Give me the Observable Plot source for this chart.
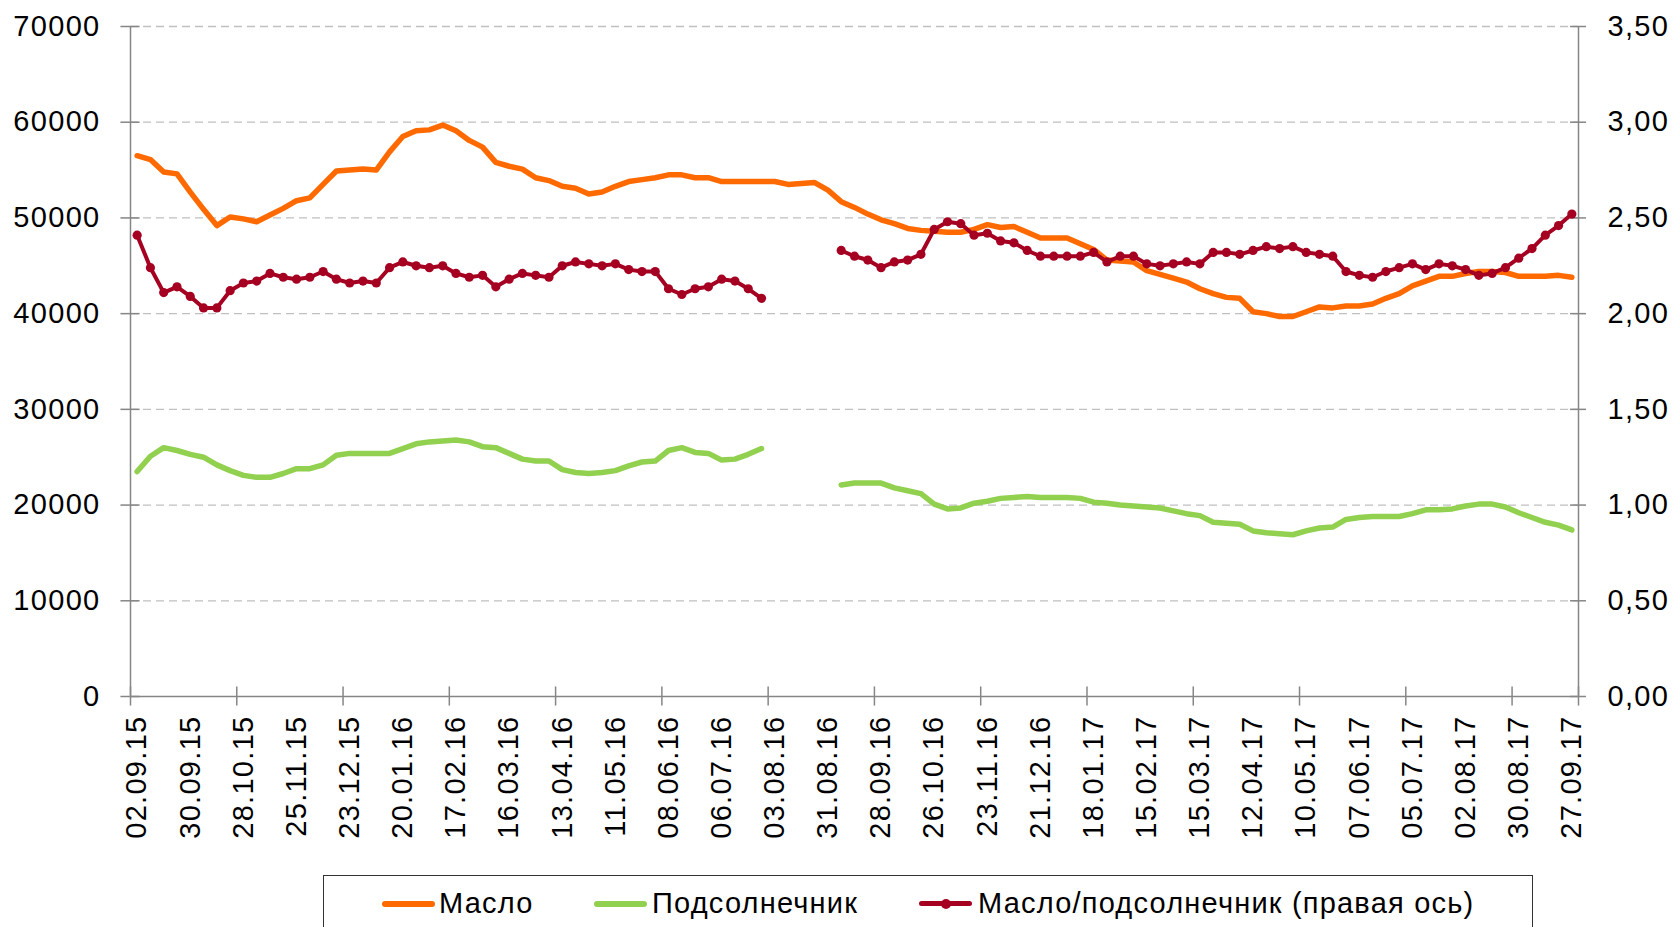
<!DOCTYPE html>
<html>
<head>
<meta charset="utf-8">
<script src="https://cdn.jsdelivr.net/npm/d3@7"></script>
<script src="https://cdn.jsdelivr.net/npm/@observablehq/plot@0.6"></script>
<style>
  html, body { margin: 0; padding: 0; background: #fff; overflow: hidden; }
  #chart { position: relative; width: 1673px; height: 927px; }
  #chart svg text { letter-spacing: 1.3px; }
  .legend { position: absolute; left: 323px; top: 875px; width: 1210px; height: 70px;
            border: 1.5px solid #333; box-sizing: border-box;
            font-family: "Liberation Sans", Arial, sans-serif; font-size: 29px; color: #000; letter-spacing: 1.2px; }
  .sw { position: absolute; top: 25px; width: 53px; height: 6px; border-radius: 3px; }
  .mk { position: absolute; left: 22px; top: -2px; width: 10px; height: 10px; border-radius: 5px; }
  .lt { position: absolute; top: 13px; line-height: 29px; white-space: nowrap; }
</style>
</head>
<body>
<div id="chart"></div>
<script>
// Categories: weekly observations, 02.09.15 … 27.09.17 (109 weeks); labels every 4th week
const tickLabels = ["02.09.15","30.09.15","28.10.15","25.11.15","23.12.15","20.01.16","17.02.16","16.03.16",
  "13.04.16","11.05.16","08.06.16","06.07.16","03.08.16","31.08.16","28.09.16","26.10.16","23.11.16",
  "21.12.16","18.01.17","15.02.17","15.03.17","12.04.17","10.05.17","07.06.17","05.07.17","02.08.17",
  "30.08.17","27.09.17"];

// Масло (left axis)
const oil = [56500,56100,54800,54600,52700,50900,49200,50100,49900,49600,50300,51000,51800,52100,53500,54900,
  55000,55100,55000,56900,58500,59100,59200,59700,59100,58100,57400,55800,55400,55100,54200,53900,53300,53100,
  52500,52700,53300,53800,54000,54200,54500,54500,54200,54200,53800,53800,53800,53800,53800,53500,53600,53700,
  52900,51700,51100,50400,49800,49400,48900,48700,48600,48500,48500,48800,49300,49000,49100,48500,47900,47900,
  47900,47300,46700,45600,45500,45400,44500,44100,43700,43300,42600,42100,41700,41600,40200,40000,39700,39700,
  40200,40700,40600,40800,40800,41000,41600,42100,42900,43400,43900,43900,44200,44400,44400,44300,43900,43900,
  43900,44000,43800];

// Подсолнечник (left axis)
const sunflower = [23500,25100,26000,25700,25300,25000,24200,23600,23100,22900,22900,23300,23800,23800,24200,
  25200,25400,25400,25400,25400,25900,26400,26600,26700,26800,26600,26100,26000,25400,24800,24600,24600,23700,
  23400,23300,23400,23600,24100,24500,24600,25700,26000,25500,25400,24700,24800,25300,25900,
  null,null,null,null,null,
  22100,22300,22300,22300,21800,21500,21200,20100,19600,19700,20200,20400,20700,20800,20900,20800,20800,20800,
  20700,20300,20200,20000,19900,19800,19700,19400,19100,18900,18200,18100,18000,17300,17100,17000,16900,17300,
  17600,17700,18500,18700,18800,18800,18800,19100,19500,19500,19600,19900,20100,20100,19800,19200,18700,18200,
  17900,17400];

// Масло/подсолнечник (right axis)
const ratio = [2.41,2.24,2.11,2.14,2.09,2.03,2.03,2.12,2.16,2.17,2.21,2.19,2.18,2.19,2.22,2.18,2.16,2.17,2.16,
  2.24,2.27,2.25,2.24,2.25,2.21,2.19,2.20,2.14,2.18,2.21,2.20,2.19,2.25,2.27,2.26,2.25,2.26,2.23,2.22,2.22,
  2.13,2.10,2.13,2.14,2.18,2.17,2.13,2.08,
  null,null,null,null,null,
  2.33,2.30,2.28,2.24,2.27,2.28,2.31,2.44,2.48,2.47,2.41,2.42,2.38,2.37,2.33,2.30,2.30,2.30,2.30,2.32,2.27,
  2.30,2.30,2.26,2.25,2.26,2.27,2.26,2.32,2.32,2.31,2.33,2.35,2.34,2.35,2.32,2.31,2.30,2.22,2.20,2.19,2.22,
  2.24,2.26,2.23,2.26,2.25,2.23,2.20,2.21,2.24,2.29,2.34,2.41,2.46,2.52];

const leftTicks = [0,10000,20000,30000,40000,50000,60000,70000];
const rightTicks = [0,0.5,1,1.5,2,2.5,3,3.5];

const seriesNames = ["Масло", "Подсолнечник", "Масло/подсолнечник (правая ось)"];
const colors = ["#ff6a00", "#92d050", "#a50021"];

// ratio axis (0…3.5) shares the frame with left axis (0…70000)
const k = 70000 / 3.5;
const n = oil.length;
const labelIdx = tickLabels.map((_, j) => j * 4);
const boundaryTicks = d3.range(0, n, 8).map(i => i - 0.5).concat([n - 0.5]);
const gridVals = leftTicks.filter(v => v > 0);
const fmtRight = v => (v / k).toFixed(2).replace(".", ",");
const axisColor = "#868686";

const chart = Plot.plot({
  width: 1673,
  height: 870,
  marginLeft: 130,
  marginRight: 95,
  marginTop: 26,
  marginBottom: 174,
  style: { fontFamily: "'Liberation Sans', Arial, sans-serif", fontSize: "29px", color: "#000", background: "#fff" },
  x: { domain: [-0.5, n - 0.5] },
  y: { domain: [0, 70000] },
  marks: [
    Plot.ruleY(gridVals, { stroke: "#c0c0c0", strokeWidth: 1.3, strokeDasharray: "8,5" }),
    Plot.axisY({ anchor: "left", ticks: leftTicks, tickSize: 0, tickPadding: 30, fontSize: 29,
                 tickFormat: d => String(d), label: null }),
    Plot.axisY({ anchor: "right", ticks: rightTicks.map(r => r * k), tickSize: 0, tickPadding: 29, fontSize: 29,
                 tickFormat: fmtRight, label: null }),
    Plot.axisX({ ticks: labelIdx, tickSize: 0, tickPadding: 19, tickRotate: -90, fontSize: 29,
                 tickFormat: i => tickLabels[i / 4], label: null }),
    Plot.ruleX([-0.5, n - 0.5], { stroke: axisColor, strokeWidth: 1.5 }),
    Plot.ruleY([0], { stroke: axisColor, strokeWidth: 1.5 }),
    Plot.ruleX(boundaryTicks, { y1: -1000, y2: 1000, stroke: axisColor, strokeWidth: 1.5, clip: false }),
    Plot.ruleY(leftTicks, { x1: -0.5 - 0.72, x2: -0.5 + 0.72, stroke: axisColor, strokeWidth: 1.5 }),
    Plot.ruleY(leftTicks, { x1: n - 0.5 - 0.6, x2: n - 0.5 + 0.6, stroke: axisColor, strokeWidth: 1.5 }),
    Plot.lineY(oil, { x: (d, i) => i, y: d => d, stroke: colors[0], strokeWidth: 5.5,
                      strokeLinejoin: "round", strokeLinecap: "round" }),
    Plot.lineY(sunflower, { x: (d, i) => i, y: d => (d == null ? NaN : d), stroke: colors[1], strokeWidth: 5.5,
                            strokeLinejoin: "round", strokeLinecap: "round" }),
    Plot.lineY(ratio, { x: (d, i) => i, y: d => (d == null ? NaN : d * k), stroke: colors[2], strokeWidth: 4,
                        strokeLinejoin: "round", strokeLinecap: "round" }),
    Plot.dot(ratio, { x: (d, i) => i, y: d => (d == null ? NaN : d * k), r: 4.6, fill: colors[2], stroke: "none" })
  ]
});
const root = document.getElementById("chart");
root.appendChild(chart);

// legend below the SVG
const legend = document.createElement("div");
legend.className = "legend";
const swLeft = [58, 270, 595];
const txtLeft = [115, 328, 654];
seriesNames.forEach((name, j) => {
  const sw = document.createElement("div");
  sw.className = "sw";
  sw.style.left = swLeft[j] + "px";
  sw.style.background = colors[j];
  if (j === 2) {
    const mk = document.createElement("div");
    mk.className = "mk";
    mk.style.background = colors[j];
    sw.appendChild(mk);
    sw.style.height = "5px";
  }
  legend.appendChild(sw);
  const t = document.createElement("span");
  t.className = "lt";
  t.style.left = txtLeft[j] + "px";
  t.textContent = name;
  legend.appendChild(t);
});
root.appendChild(legend);
</script>
</body>
</html>
